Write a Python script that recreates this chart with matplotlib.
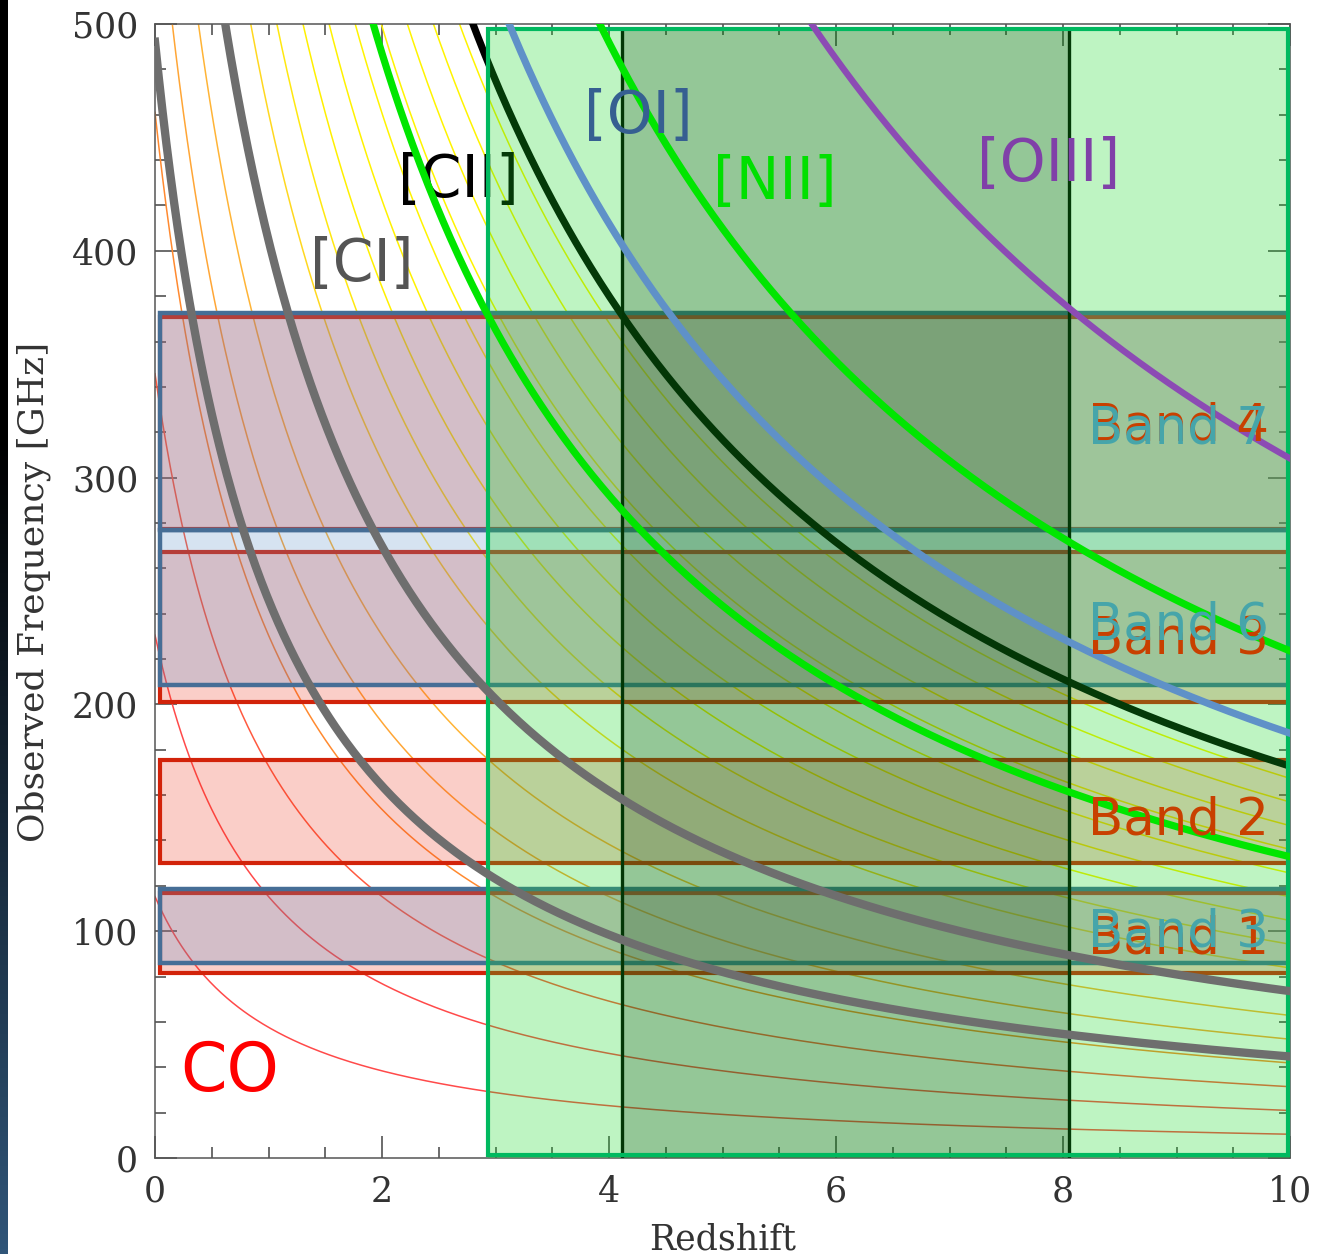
import numpy as np
import matplotlib
matplotlib.use('Agg')
import matplotlib.pyplot as plt
from matplotlib.patches import Rectangle
from matplotlib.ticker import MultipleLocator

# ---------------- data ----------------
# CO ladder rest frequencies (GHz), J = 1..16
co_rest_ghz = [115.27, 230.54, 345.80, 461.04, 576.27, 691.47, 806.65, 921.80,
               1036.91, 1151.99, 1267.01, 1381.99, 1496.92, 1611.79, 1726.60, 1841.35]
co_colors = ['#ff4a4a', '#ff4a4a', '#ff5a40', '#ff8a30', '#ffa636', '#ffb436',
             '#ffc830', '#ffd820', '#ffe810', '#fff000', '#fff200', '#fff400',
             '#fff400', '#fff400', '#fff400', '#fff400']

ci_rest_ghz = [492.16, 809.34]        # [CI] 1-0, 2-1
cii_rest_ghz = 1900.54                # [CII] 158 um
oi_rest_ghz = 2060.07                 # [OI] 145 um
nii_rest_ghz = [1461.13, 2459.38]     # [NII] 205, 122 um
oiii_rest_ghz = 3393.01               # [OIII] 88 um

# ALMA bands (blue) and NOEMA bands (red), GHz
alma_names = ['Band 3', 'Band 6', 'Band 7']
alma_lo = [86.0, 208.5, 277.0]
alma_hi = [118.5, 277.0, 372.5]
noema_names = ['Band 1', 'Band 2', 'Band 3', 'Band 4']
noema_lo = [81.5, 130.0, 201.0, 277.5]
noema_hi = [117.0, 175.5, 267.0, 371.0]

# redshift windows
survey_z = [2.93, 10.0]
deep_z = [4.115, 8.05]
window_top = 498.0

z = np.linspace(0, 10, 600)

# ---------------- figure ----------------
W, H = 1319, 1254
fig = plt.figure(figsize=(W / 100, H / 100), dpi=100)
fig.patch.set_facecolor('white')

# dark slide edge on the left
sax = fig.add_axes([0, 0, 7 / W, 1])
grad = np.zeros((256, 1, 3))
t = np.clip((np.linspace(0, 1, 256) - 0.35) / 0.65, 0, 1)
grad[:, 0, 0] = 48 / 255 * t
grad[:, 0, 1] = 85 / 255 * t
grad[:, 0, 2] = 120 / 255 * t
sax.imshow(grad, aspect='auto', extent=[0, 1, 0, 1], origin='upper')
sax.axis('off')

ax = fig.add_axes([155 / W, 1 - 1158 / H, 1135 / W, 1134 / H])
ax.set_xlim(0, 10)
ax.set_ylim(0, 500)

# CO ladder
for f, c in zip(co_rest_ghz, co_colors):
    ax.plot(z, f / (1 + z), color=c, lw=1.1, zorder=2)

# NOEMA (red) boxes
for lo, hi in zip(noema_lo, noema_hi):
    ax.add_patch(Rectangle((0.04, lo), 9.96, hi - lo, facecolor=(235/255, 50/255, 25/255, 0.24),
                           edgecolor='#d2230a', lw=3.0, zorder=3))
# ALMA (blue) boxes
for lo, hi in zip(alma_lo, alma_hi):
    ax.add_patch(Rectangle((0.04, lo), 9.96, hi - lo, facecolor=(95/255, 145/255, 200/255, 0.25),
                           edgecolor='#466e96', lw=3.2, zorder=4))

# [CII] and window edges (under green overlay)
ax.plot(z, cii_rest_ghz / (1 + z), color='black', lw=5.2, zorder=5, solid_capstyle='butt')
for zz in deep_z:
    ax.plot([zz, zz], [0, window_top], color='black', lw=2.4, zorder=5)
ax.text(2.67, 431, '[CII]', color='black', fontsize=42, ha='center', va='center',
        family='DejaVu Sans', zorder=5)

# green overlays
ax.add_patch(Rectangle((survey_z[0], 0), survey_z[1] - survey_z[0], window_top,
                       facecolor=(15/255, 218/255, 33/255, 0.27), edgecolor='none', zorder=6))
ax.add_patch(Rectangle((deep_z[0], 0), deep_z[1] - deep_z[0], window_top,
                       facecolor=(0, 40/255, 0, 0.22), edgecolor='none', zorder=6.5))
ax.add_patch(Rectangle((survey_z[0], 1.2), survey_z[1] - survey_z[0] - 0.02, window_top - 1.2,
                       facecolor='none', edgecolor='#00b95f', lw=3.0, zorder=7, clip_on=False))

# fine-structure lines on top
for f in ci_rest_ghz:
    ax.plot(z, f / (1 + z), color='#6e6e6e', lw=6.0, zorder=8)
ax.plot(z, oi_rest_ghz / (1 + z), color='#5f91c8', lw=5.2, zorder=8)
for f in nii_rest_ghz:
    ax.plot(z, f / (1 + z), color='#00e600', lw=5.2, zorder=8)
ax.plot(z, oiii_rest_ghz / (1 + z), color='#8c4bb4', lw=4.6, zorder=8)

# line labels
lab = dict(fontsize=42, ha='center', va='center', family='DejaVu Sans', zorder=9)
ax.text(1.82, 394, '[CI]', color='#555555', **lab)
ax.text(4.26, 459, '[OI]', color='#365f91', **lab)
ax.text(5.46, 430, '[NII]', color='#00e000', **lab)
ax.text(7.87, 438, '[OIII]', color='#8040a8', **lab)
ax.text(0.66, 38, 'CO', color='#ff0000', fontsize=48, ha='center', va='center',
        family='DejaVu Sans', zorder=9)

# band labels (NOEMA red beneath ALMA teal)
bx = 8.22
band_kw = dict(fontsize=37, ha='left', va='center', family='DejaVu Sans', zorder=9)
noema_label_y = [96.5, 149.0, 228.5, 322.5]
alma_label_y = [99.5, 235.0, 321.0]
for name, yy in zip(noema_names, noema_label_y):
    ax.text(bx, yy, name, color='#c84000', **band_kw)
for name, yy in zip(alma_names, alma_label_y):
    ax.text(bx, yy, name, color='#46a5aa', **band_kw)

# axes styling
ax.xaxis.set_major_locator(MultipleLocator(2))
ax.xaxis.set_minor_locator(MultipleLocator(0.5))
ax.yaxis.set_major_locator(MultipleLocator(100))
ax.yaxis.set_minor_locator(MultipleLocator(20))
ax.tick_params(which='both', direction='in', top=True, right=True, color='#444444', width=1.1)
ax.tick_params(which='major', length=16, pad=12, labelsize=25, labelcolor='#333333')
ax.tick_params(which='minor', length=8)
for lbl in ax.get_xticklabels() + ax.get_yticklabels():
    lbl.set_family('DejaVu Serif')
for s in ax.spines.values():
    s.set_color('#555555')
    s.set_linewidth(1.1)

ax.set_xlabel('Redshift', family='DejaVu Serif', fontsize=25, color='#333333')
ax.set_ylabel('Observed Frequency [GHz]', family='DejaVu Serif', fontsize=26, color='#333333')
ax.xaxis.set_label_coords(0.5, -0.057)
ax.yaxis.set_label_coords(-0.092, 0.499)

fig.savefig('out.png', dpi=100)
